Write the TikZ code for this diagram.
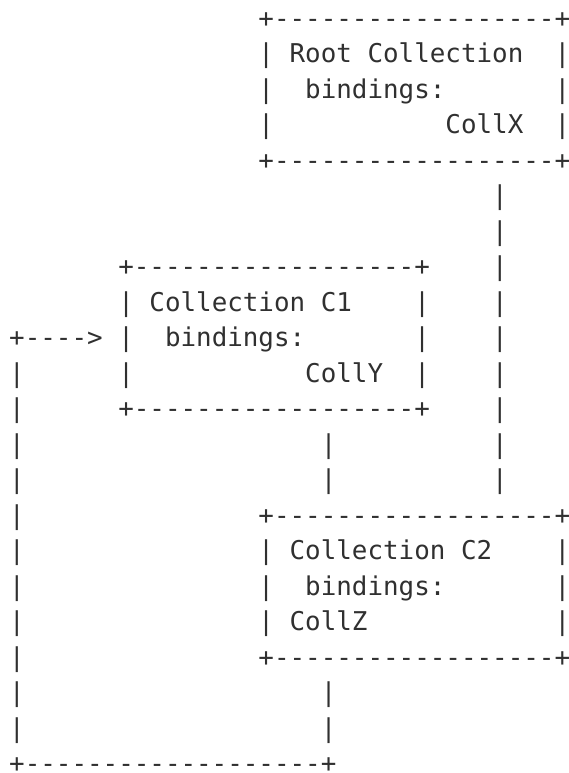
\documentclass[tikz,border=0pt]{standalone}
\usepackage{fontspec}
\setmonofont{DejaVu Sans Mono}
\definecolor{inkgray}{HTML}{303030}
\tikzset{ascii/.style={font=\ttfamily\fontsize{25.88pt}{35.5pt}\selectfont, text=inkgray, inner sep=0pt, anchor=base west, yshift=-6.75pt}}

\begin{document}
\begin{tikzpicture}[x=15.58pt, y=-35.5pt]
    \useasboundingbox (-0.578,-0.577) rectangle (35.94,21.197);

    % root collection
    \node[ascii] (rootTop) at (16,0) {+------------------+};
    \node[ascii] (rootName) at (16,1) {|~Root~Collection~~|};
    \node[ascii] (rootBind) at (16,2) {|~~bindings:~~~~~~~|};
    \node[ascii] (rootColl) at (16,3) {|~~~~~~~~~~~CollX~~|};
    \node[ascii] (rootBot) at (16,4) {+------------------+};

    % collection C1
    \node[ascii] (cOneTop) at (7,7) {+------------------+};
    \node[ascii] (cOneName) at (7,8) {|~Collection~C1~~~~|};
    \node[ascii] (cOneBind) at (7,9) {|~~bindings:~~~~~~~|};
    \node[ascii] (cOneColl) at (7,10) {|~~~~~~~~~~~CollY~~|};
    \node[ascii] (cOneBot) at (7,11) {+------------------+};

    % collection C2
    \node[ascii] (cTwoTop) at (16,14) {+------------------+};
    \node[ascii] (cTwoName) at (16,15) {|~Collection~C2~~~~|};
    \node[ascii] (cTwoBind) at (16,16) {|~~bindings:~~~~~~~|};
    \node[ascii] (cTwoColl) at (16,17) {|~CollZ~~~~~~~~~~~~|};
    \node[ascii] (cTwoBot) at (16,18) {+------------------+};

    % links
    \foreach \i in {5,...,13} \node[ascii] (rootLink\i) at (31,\i) {|};
    \foreach \i in {12,13} \node[ascii] (cOneLink\i) at (20,\i) {|};
    \foreach \i in {19,20} \node[ascii] (cTwoLink\i) at (20,\i) {|};
    \foreach \i in {10,...,20} \node[ascii] (backLink\i) at (0,\i) {|};
    \node[ascii] (backArrow) at (0,9) {+---->};
    \node[ascii] (backBot) at (0,21) {+-------------------+};
\end{tikzpicture}
\end{document}
